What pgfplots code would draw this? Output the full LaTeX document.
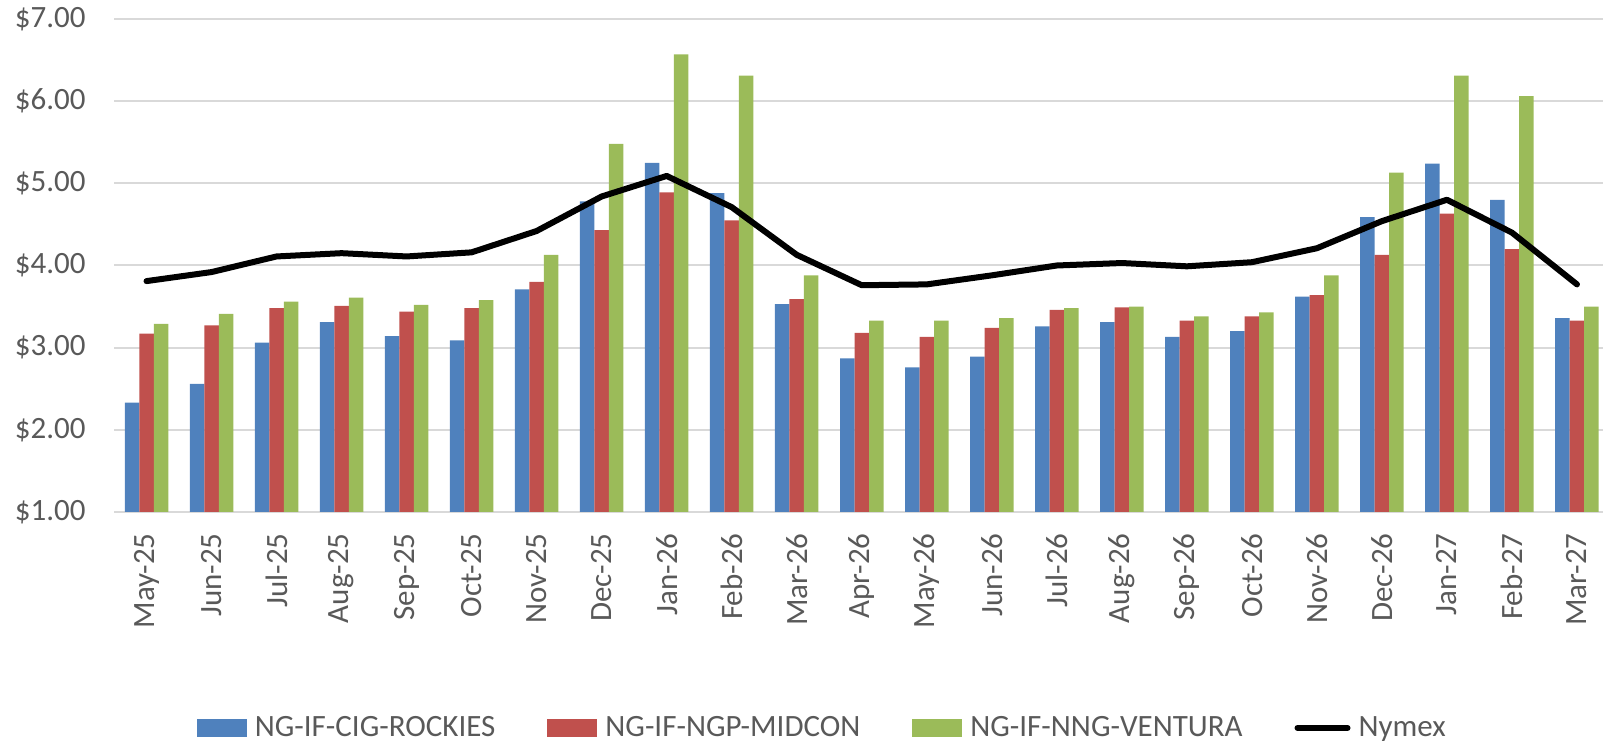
\documentclass[border=0pt]{standalone}
\usepackage{pgfplots}
\pgfplotsset{compat=1.18}
\usepackage{pgfplotstable}
\usepackage{fontspec}
\setmainfont{Carlito}
\definecolor{cblue}{HTML}{4F81BD}
\definecolor{cred}{HTML}{C0504D}
\definecolor{cgreen}{HTML}{9BBB59}
\definecolor{tickgray}{HTML}{595959}
\definecolor{gridgray}{HTML}{D9D9D9}
\pgfplotstableread{
idx cig ngp nng nymex
0 2.33 3.17 3.29 3.81
1 2.56 3.27 3.41 3.92
2 3.06 3.48 3.56 4.11
3 3.31 3.51 3.61 4.15
4 3.14 3.44 3.52 4.11
5 3.09 3.48 3.58 4.16
6 3.71 3.80 4.13 4.42
7 4.78 4.43 5.48 4.84
8 5.25 4.89 6.57 5.09
9 4.88 4.55 6.31 4.71
10 3.53 3.59 3.88 4.13
11 2.87 3.18 3.33 3.76
12 2.76 3.13 3.33 3.77
13 2.89 3.24 3.36 3.88
14 3.26 3.46 3.48 4.00
15 3.31 3.49 3.50 4.03
16 3.13 3.33 3.38 3.99
17 3.20 3.38 3.43 4.04
18 3.62 3.64 3.88 4.21
19 4.59 4.13 5.13 4.54
20 5.24 4.63 6.31 4.80
21 4.80 4.20 6.06 4.40
22 3.36 3.33 3.50 3.77
}\datatable
\begin{document}
\begin{tikzpicture}
\useasboundingbox (0,0) rectangle (801.5pt,371.5pt);
\begin{axis}[
  at={(57pt,115.5pt)}, anchor=south west,
  scale only axis, width=744.5pt, height=246.5pt,
  xmin=-0.5, xmax=22.4, ymin=1, ymax=7,
  xtick={0,...,22},
  xticklabels={May-25,Jun-25,Jul-25,Aug-25,Sep-25,Oct-25,Nov-25,Dec-25,Jan-26,Feb-26,Mar-26,Apr-26,May-26,Jun-26,Jul-26,Aug-26,Sep-26,Oct-26,Nov-26,Dec-26,Jan-27,Feb-27,Mar-27},
  ytick={1,...,7},
  yticklabels={\$1.00,\$2.00,\$3.00,\$4.00,\$5.00,\$6.00,\$7.00},
  tick label style={font=\fontsize{15.5}{18}\selectfont, text=tickgray},
  xticklabel style={rotate=90, anchor=east, inner sep=0pt, xshift=-10.5pt},
  yticklabel style={anchor=east, inner sep=0pt, xshift=-14pt},
  major tick length=0pt,
  axis line style={draw=none},
  ymajorgrids, major grid style={gridgray, line width=1pt},
  clip=false,
  legend columns=4,
  legend style={draw=none, fill=none, at={(0.475,-0.438)}, anchor=center,
    font=\fontsize{15.5}{18}\selectfont, text=tickgray,
    /tikz/every odd column/.append style={column sep=4pt},
    /tikz/every even column/.append style={column sep=26pt},
    nodes={inner sep=0pt}},
  legend cell align=left,
]
\addplot[ybar, bar width=0.223, bar shift=-0.223, fill=cblue, draw=none,
  legend image code/.code={\fill[cblue] (0pt,-4.5pt) rectangle (25pt,4.5pt);}]
  table[x=idx, y=cig] {\datatable};
\addlegendentry{NG-IF-CIG-ROCKIES}
\addplot[ybar, bar width=0.223, bar shift=0, fill=cred, draw=none,
  legend image code/.code={\fill[cred] (0pt,-4.5pt) rectangle (25pt,4.5pt);}]
  table[x=idx, y=ngp] {\datatable};
\addlegendentry{NG-IF-NGP-MIDCON}
\addplot[ybar, bar width=0.223, bar shift=0.223, fill=cgreen, draw=none,
  legend image code/.code={\fill[cgreen] (0pt,-4.5pt) rectangle (25pt,4.5pt);}]
  table[x=idx, y=nng] {\datatable};
\addlegendentry{NG-IF-NNG-VENTURA}
\addplot[black, line width=3pt, line cap=round, line join=round, mark=none,
  legend image code/.code={\draw[black, line width=3pt, line cap=round] (1pt,0pt) -- (26pt,0pt);}]
  table[x=idx, y=nymex] {\datatable};
\addlegendentry{Nymex}
\end{axis}
\end{tikzpicture}
\end{document}
